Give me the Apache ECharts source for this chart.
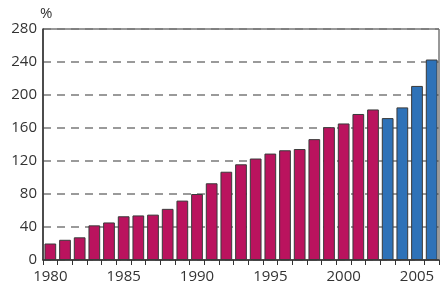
<!DOCTYPE html>
<html>
<head>
<meta charset="utf-8">
<script src="https://cdn.jsdelivr.net/npm/echarts@6/dist/echarts.min.js"></script>
<style>
html, body { margin: 0; padding: 0; background: #fff; }
#chart { width: 440px; height: 289px; }
</style>
</head>
<body>
<div id="chart"></div>
<script>
var years = ['1980','1981','1982','1983','1984','1985','1986','1987','1988','1989',
    '1990','1991','1992','1993','1994','1995','1996','1997','1998','1999',
    '2000','2001','2002','2003','2004','2005','2006'];
var values = [20, 24.5, 27.5, 42, 45.5, 53, 54, 55, 62, 72,
    80, 93, 107, 116, 123, 129, 133, 134.5, 146.5, 161,
    165.5, 177, 182.5, 172, 185, 211, 243];
// index where the blue (later) bars start
var blueFrom = 23;
var yTicks = [0, 40, 80, 120, 160, 200, 240, 280];

var chart = echarts.init(document.getElementById('chart'));

var barData = values.map(function (v, i) {
    return {
        value: v,
        itemStyle: { color: i >= blueFrom ? '#2e72b8' : '#ba135e' }
    };
});

var option = {
    animation: false,
    textStyle: { fontFamily: 'Open Sans' },
    grid: {
        left: 43, right: 1, top: 29, bottom: 29,
        show: true, borderColor: '#333', borderWidth: 1
    },
    xAxis: {
        type: 'category',
        data: years,
        axisLine: { lineStyle: { color: '#333', width: 1.5 } },
        axisTick: { show: true, interval: 0, length: 5, lineStyle: { color: '#333' } },
        axisLabel: {
            interval: 4, color: '#333', fontSize: 15, margin: 9,
            fontFamily: 'Open Sans'
        }
    },
    yAxis: {
        type: 'value',
        name: '%',
        nameLocation: 'end',
        nameGap: 6,
        nameTextStyle: { color: '#333', fontSize: 15, align: 'left', padding: [0, 0, 0, -3] },
        min: yTicks[0],
        max: yTicks[yTicks.length - 1],
        interval: 40,
        axisLine: { show: true, lineStyle: { color: '#333', width: 1.5 } },
        axisTick: { show: false },
        axisLabel: { color: '#333', fontSize: 15, margin: 6 },
        splitLine: { lineStyle: { color: '#7a7a7a', width: 1.5, type: [8, 6] } }
    },
    series: [{
        type: 'bar',
        data: barData,
        barCategoryGap: '20%',
        itemStyle: { borderColor: '#3a3a3a', borderWidth: 1 }
    }]
};
chart.setOption(option);
window.onresize = chart.resize;
</script>
</body>
</html>
